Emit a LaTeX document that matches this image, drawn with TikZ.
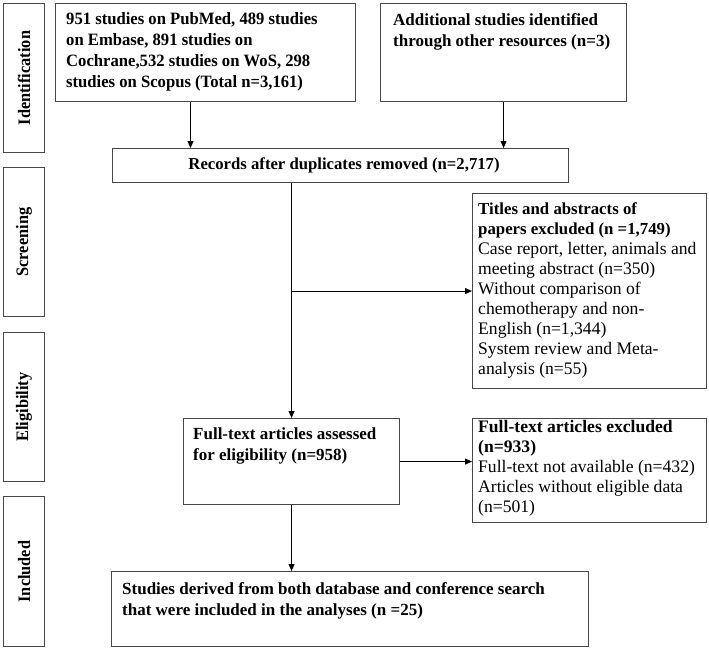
\documentclass[tikz,border=0pt]{standalone}
\usepackage{fontspec}
\setmainfont{Liberation Serif}
\usetikzlibrary{arrows.meta,calc}
\definecolor{boxgray}{RGB}{70,70,70}
\begin{document}
\begin{tikzpicture}[x=1pt,y=-1pt,
  box/.style={draw=boxgray, line width=1.1pt, inner sep=0pt, anchor=north west},
  txt/.style={anchor=north west, inner sep=0pt, align=left},
  btxt/.style={txt, font=\fontsize{17}{21}\selectfont\bfseries},
  rtxt/.style={txt, font=\fontsize{17.6}{20.1}\selectfont},
  side/.style={rotate=90, inner sep=0pt, font=\fontsize{17.5}{20}\selectfont\bfseries\addfontfeatures{FakeStretch=0.933}},
  arr/.style={-{Triangle[length=7pt,width=6pt]}, line width=1pt, black}]
\useasboundingbox (0,0) rectangle (709,649);
% phase boxes
\node[box, minimum width=41pt, minimum height=149pt] (pid) at (3,3) {};
\node[box, minimum width=41pt, minimum height=149pt] (psc) at (3,167) {};
\node[box, minimum width=41pt, minimum height=149pt] (pel) at (3,332) {};
\node[box, minimum width=41pt, minimum height=150pt] (pin) at (3,496) {};
\node[side] (lid) at (pid.center) {Identification};
\node[side] (lsc) at (psc.center) {Screening};
\node[side] (lel) at (pel.center) {Eligibility};
\node[side] (lin) at (pin.center) {Included};
% boxes
\node[box, minimum width=300pt, minimum height=98pt] (tl) at (55,3) {};
\node[txt, font=\fontsize{17.3}{21}\selectfont\bfseries\addfontfeatures{FakeStretch=0.962}] (tltx) at (66,12) {951 studies on PubMed, 489 studies\\on Embase, 891 studies on\\Cochrane,532 studies on WoS, 298\\studies on Scopus (Total n=3,161)};
\node[box, minimum width=246pt, minimum height=98pt] (tr) at (380,3) {};
\node[btxt] (trtx) at (393,13) {Additional studies identified\\through other resources (n=3)};
\node[box, minimum width=456pt, minimum height=34pt] (rec) at (112,148) {};
\node[inner sep=0pt, font=\fontsize{16.7}{21}\selectfont\bfseries, xshift=3.5pt] (rectx) at (rec.center) {Records after duplicates removed (n=2,717)};
\node[box, minimum width=234pt, minimum height=195pt] (ti) at (472,193) {};
\node[rtxt] (titx) at (478,202) {{\fontsize{16.8}{20.1}\selectfont\bfseries Titles and abstracts of}\\{\fontsize{16.8}{20.1}\selectfont\bfseries papers excluded (n =1,749)}\\Case report, letter, animals and\\meeting abstract (n=350)\\Without comparison of\\chemotherapy and non-\\English (n=1,344)\\System review and Meta-\\analysis (n=55)};
\node[box, minimum width=216pt, minimum height=86pt] (fta) at (183,418) {};
\node[btxt] (ftatx) at (193,427) {Full-text articles assessed\\for eligibility (n=958)};
\node[box, minimum width=234pt, minimum height=104pt] (fte) at (472,418) {};
\node[rtxt] (ftetx) at (478,420) {\textbf{Full-text articles excluded}\\\textbf{(n=933)}\\Full-text not available (n=432)\\Articles without eligible data\\(n=501)};
\node[box, minimum width=477pt, minimum height=75pt] (st) at (111,571) {};
\node[btxt] (sttx) at (122,582) {Studies derived from both database and conference search\\that were included in the analyses (n =25)};
% connectors
\coordinate (tlout) at ($(tl.south west)!0.45!(tl.south east)$);
\draw[arr] (tlout) -- (tlout |- rec.north);
\draw[arr] (tr.south) -- (tr.south |- rec.north);
\draw[arr] (fta.north |- rec.south) -- (fta.north);
\draw[arr] (fta.north |- ti.west) -- (ti.west);
\draw[arr] (fta.east) -- (fta.east -| fte.west);
\draw[arr] (fta.south) -- (fta.south |- st.north);
\end{tikzpicture}
\end{document}
